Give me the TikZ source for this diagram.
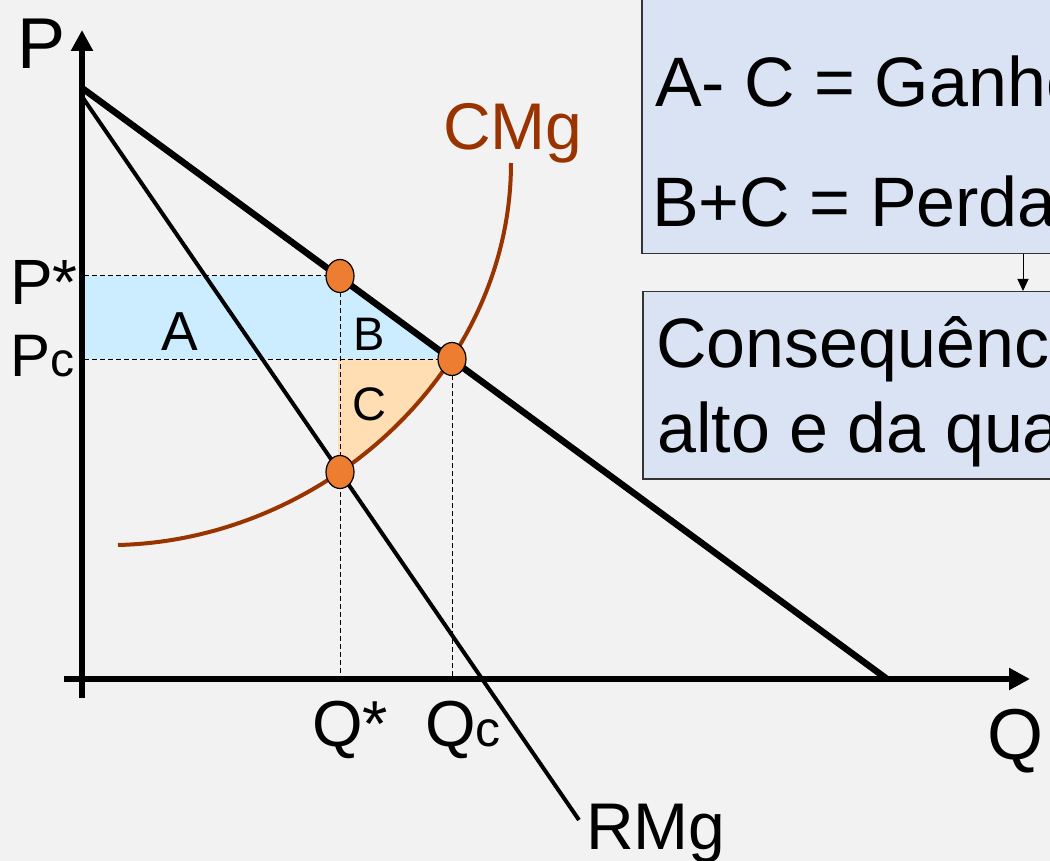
\documentclass[tikz,border=0pt]{standalone}
\usepackage{fontspec}
\setmainfont{Liberation Sans}
\usetikzlibrary{shapes.geometric,arrows.meta}
\definecolor{bgc}{HTML}{F2F2F2}
\definecolor{areab}{HTML}{CCECFF}
\definecolor{areac}{HTML}{FFDEB3}
\definecolor{cmgc}{HTML}{993300}
\definecolor{dotc}{HTML}{ED7D31}
\definecolor{boxc}{HTML}{DAE3F3}
\newcommand\fsz[1]{\fontsize{#1}{#1}\selectfont}
\tikzset{
  axisline/.style={line width=6pt,-{Triangle[length=21pt,width=21pt]}},
  demandline/.style={line width=6.5pt},
  rmgline/.style={line width=4pt},
  cmgline/.style={line width=4pt,draw=cmgc},
  dsh/.style={line width=1pt,dash pattern=on 5pt off 3pt},
  dot/.style={ellipse,draw=black,line width=1.2pt,fill=dotc,minimum width=28pt,minimum height=33pt,inner sep=0pt},
  lbl/.style={inner sep=0pt,anchor=base west},
  box/.style={draw=black!80,line width=1.5pt,fill=boxc,inner sep=0pt},
  boxtxt/.style={inner sep=0pt,anchor=base west,font=\fsz{70}},
  smallarrow/.style={line width=1pt,-{Triangle[length=12pt,width=11pt]}}
}
\begin{document}
\begin{tikzpicture}[x=1pt,y=-1pt]
\useasboundingbox (0,0) rectangle (1050,861);
\clip (0,0) rectangle (1050,861);
\fill[bgc] (0,0) rectangle (1050,861);
% areas
\fill[areab] (82,276) -- (340,276) -- (452,359) -- (82,359) -- cycle;
\begin{scope}
  \clip (338,359) rectangle (470,480);
  \fill[areac] (118,545) .. controls (325,540) and (510,370) .. (510,163) -- (118,163) -- cycle;
\end{scope}
% key points
\coordinate (ps) at (340,276);
\coordinate (pcp) at (452,359);
\coordinate (qs) at (340,472);
\coordinate (yps) at (84,276);
\coordinate (ypc) at (84,359);
\coordinate (xqs) at (340,676);
\coordinate (xqc) at (452,676);
% dashed guides
\draw[dsh] (yps) -- (ps);
\draw[dsh] (ypc) -- (pcp);
\draw[dsh] (ps) -- (xqs);
\draw[dsh] (pcp) -- (xqc);
% axes
\coordinate (o1) at (82,698);
\coordinate (ytop) at (82,30);
\coordinate (o2) at (64,679);
\coordinate (xend) at (1030,679);
\draw[axisline] (o1) -- (ytop);
\draw[axisline] (o2) -- (xend);
% demand
\coordinate (d0) at (82,88);
\coordinate (d1) at (887,679);
\draw[demandline] (d0) -- (d1);
% RMg
\coordinate (r0) at (83,98);
\coordinate (r1) at (579,820);
\draw[rmgline] (r0) -- (r1);
% CMg
\coordinate (c0) at (118,545);
\coordinate (c1) at (511,163);
\draw[cmgline] (c0) .. controls (325,540) and (511,370) .. (c1);
% dots
\node[dot] (dps) at (ps) {};
\node[dot] (dpc) at (pcp) {};
\node[dot] (dqs) at (qs) {};
% labels
\node[lbl,font=\fsz{72}] (lp) at (17,69) {P};
\node[lbl,font=\fsz{64}] (lps) at (10,305) {P*};
\node[lbl] (lpc) at (10,376) {\fsz{60}P\fsz{48}c};
\node[lbl,font=\fsz{55},anchor=base] (la) at (180,350) {A};
\node[lbl,font=\fsz{47},anchor=base] (lb) at (369,350) {B};
\node[lbl,font=\fsz{47},anchor=base] (lc) at (369,420) {C};
\node[lbl,font=\fsz{66},text=cmgc] (lcmg) at (443,150) {CMg};
\node[lbl,font=\fsz{65}] (lqs) at (312,746) {Q*};
\node[lbl] (lqc) at (425,746) {\fsz{65}Q\fsz{50}c};
\node[lbl,font=\fsz{72}] (lq) at (987,759) {Q};
\node[lbl,font=\fsz{66}] (lrmg) at (586,849) {RMg};
% boxes
\node[box,anchor=north west,minimum width=500pt,minimum height=290pt] (b1) at (641,-37) {};
\node[box,anchor=north west,minimum width=500pt,minimum height=187pt] (b2) at (642,291) {};
\node[boxtxt] (t1) at (655,107) {A- C = Ganho};
\node[boxtxt] (t2) at (652,227) {B+C = Perda};
\node[boxtxt] (t3) at (656,367) {Consequência};
\node[boxtxt] (t4) at (657,452) {alto e da quantidade};
\coordinate (ax) at (1023,0);
\draw[smallarrow] (b1.south -| ax) -- (b2.north -| ax);
\end{tikzpicture}
\end{document}
